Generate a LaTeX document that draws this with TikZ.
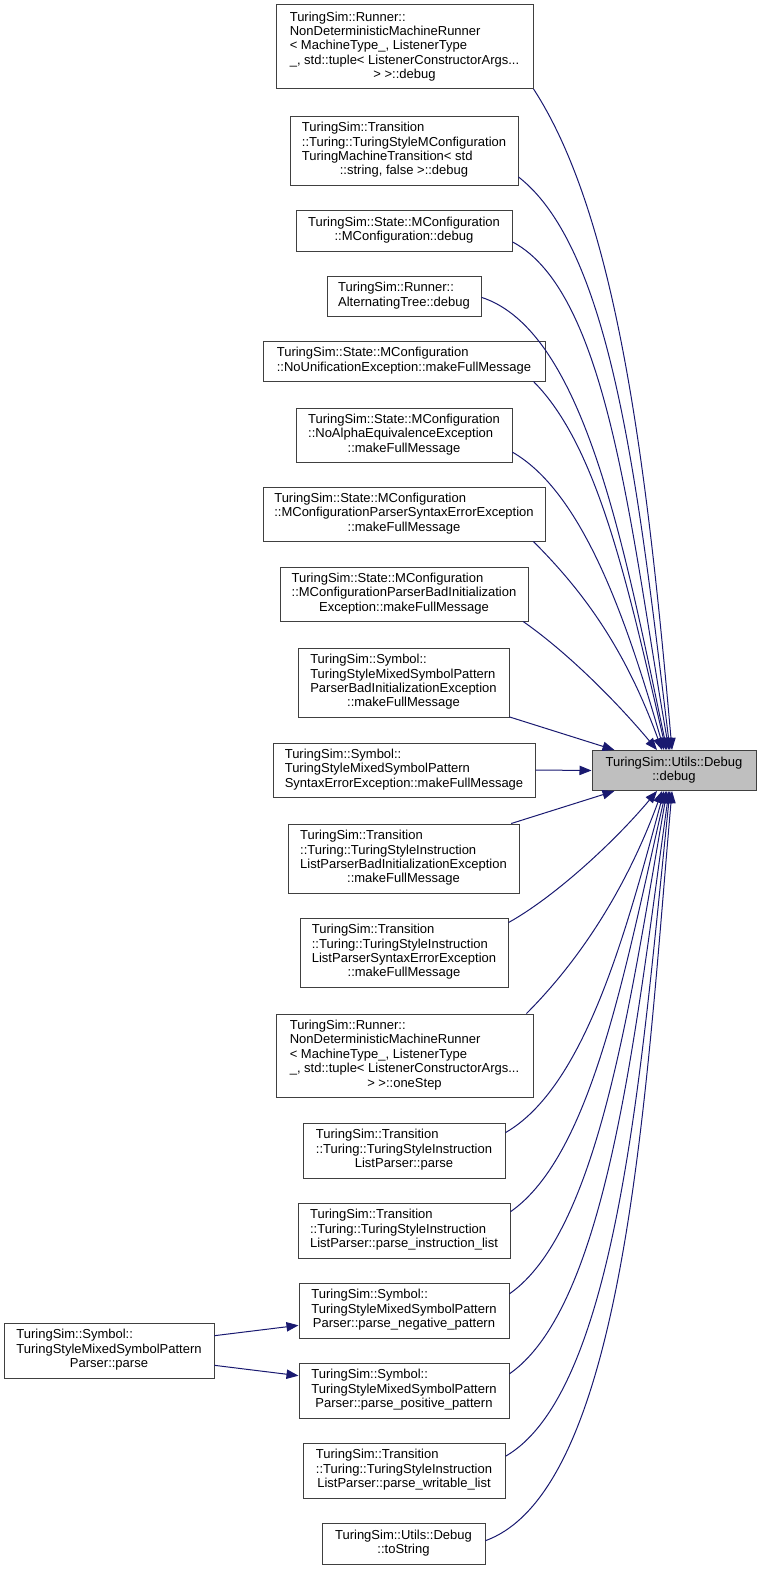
\documentclass[tikz,border=0pt]{standalone}
\usepackage{fontspec}
\setmainfont{Liberation Sans}
\usepackage{tikz}
\usetikzlibrary{arrows.meta}
\definecolor{EdgeBlue}{HTML}{191970}
\definecolor{BoxGray}{HTML}{BFBFBF}
\definecolor{BoxLine}{HTML}{404040}
\newcommand{\fnlab}[1]{\begin{tabular}{@{}l@{}}#1\end{tabular}}
\newcommand{\lastln}[1]{\multicolumn{1}{@{}c@{}}{#1}}

\begin{document}
\begin{tikzpicture}[x=0.75pt,y=-0.75pt,
    fn/.style={draw=BoxLine,line width=0.75pt,fill=white,inner sep=0pt,
      font=\fontsize{9.75}{10.8}\selectfont},
    bw/.style={minimum width=#1*0.75pt},
    bh/.style={minimum height=#1*0.75pt},
    call/.style={draw=EdgeBlue,line width=0.75pt,-{Triangle[length=9pt,width=7pt]}}]
  \useasboundingbox (0,0) rectangle (761,1570);

  % callers above
  \node[fn,bw=257,bh=84] (rdebug) at (404.5,47) {\fnlab{TuringSim::Runner::\\NonDeterministicMachineRunner\\< MachineType\_, ListenerType\\\_, std::tuple< ListenerConstructorArgs...\\\lastln{> >::debug}}};
  \node[fn,bw=228,bh=69] (tdebug) at (404,150.5) {\fnlab{TuringSim::Transition\\::Turing::TuringStyleMConfiguration\\TuringMachineTransition< std\\\lastln{::string, false >::debug}}};
  \node[fn,bw=216,bh=41] (mcdebug) at (404,230.5) {\fnlab{TuringSim::State::MConfiguration\\\lastln{::MConfiguration::debug}}};
  \node[fn,bw=154,bh=40] (atdebug) at (404,296) {\fnlab{TuringSim::Runner::\\\lastln{AlternatingTree::debug}}};
  \node[fn,bw=282,bh=40] (nounif) at (404,361) {\fnlab{TuringSim::State::MConfiguration\\\lastln{::NoUnificationException::makeFullMessage}}};
  \node[fn,bw=216,bh=54] (noalpha) at (404,435) {\fnlab{TuringSim::State::MConfiguration\\::NoAlphaEquivalenceException\\\lastln{::makeFullMessage}}};
  \node[fn,bw=282,bh=54] (mcsyntax) at (404,514) {\fnlab{TuringSim::State::MConfiguration\\::MConfigurationParserSyntaxErrorException\\\lastln{::makeFullMessage}}};
  \node[fn,bw=248,bh=54] (mcbadinit) at (404,594) {\fnlab{TuringSim::State::MConfiguration\\::MConfigurationParserBadInitialization\\\lastln{Exception::makeFullMessage}}};
  \node[fn,bw=211,bh=69] (spbadinit) at (403.5,682.5) {\fnlab{TuringSim::Symbol::\\TuringStyleMixedSymbolPattern\\ParserBadInitializationException\\\lastln{::makeFullMessage}}};
  \node[fn,bw=262,bh=54] (spsyntax) at (404,770) {\fnlab{TuringSim::Symbol::\\TuringStyleMixedSymbolPattern\\\lastln{SyntaxErrorException::makeFullMessage}}};

  % the function itself
  \node[fn,fill=BoxGray,bw=164,bh=40] (dbg) at (674,770.5) {\fnlab{TuringSim::Utils::Debug\\\lastln{::debug}}};

  % callers below
  \node[fn,bw=231,bh=69] (tlbadinit) at (403.5,858.5) {\fnlab{TuringSim::Transition\\::Turing::TuringStyleInstruction\\ListParserBadInitializationException\\\lastln{::makeFullMessage}}};
  \node[fn,bw=208,bh=69] (tlsyntax) at (404,952.5) {\fnlab{TuringSim::Transition\\::Turing::TuringStyleInstruction\\ListParserSyntaxErrorException\\\lastln{::makeFullMessage}}};
  \node[fn,bw=257,bh=83] (onestep) at (404.5,1055.5) {\fnlab{TuringSim::Runner::\\NonDeterministicMachineRunner\\< MachineType\_, ListenerType\\\_, std::tuple< ListenerConstructorArgs...\\\lastln{> >::oneStep}}};
  \node[fn,bw=202,bh=55] (tlparse) at (404,1150.5) {\fnlab{TuringSim::Transition\\::Turing::TuringStyleInstruction\\\lastln{ListParser::parse}}};
  \node[fn,bw=212,bh=55] (tlinstr) at (404,1230.5) {\fnlab{TuringSim::Transition\\::Turing::TuringStyleInstruction\\\lastln{ListParser::parse\_instruction\_list}}};
  \node[fn,bw=210,bh=55] (spneg) at (404,1310.5) {\fnlab{TuringSim::Symbol::\\TuringStyleMixedSymbolPattern\\\lastln{Parser::parse\_negative\_pattern}}};
  \node[fn,bw=210,bh=55] (sppos) at (404,1390.5) {\fnlab{TuringSim::Symbol::\\TuringStyleMixedSymbolPattern\\\lastln{Parser::parse\_positive\_pattern}}};
  \node[fn,bw=202,bh=55] (tlwrit) at (404,1470.5) {\fnlab{TuringSim::Transition\\::Turing::TuringStyleInstruction\\\lastln{ListParser::parse\_writable\_list}}};
  \node[fn,bw=163,bh=41] (tostr) at (403.5,1543.5) {\fnlab{TuringSim::Utils::Debug\\\lastln{::toString}}};
  \node[fn,bw=210,bh=55] (spparse) at (109,1350.5) {\fnlab{TuringSim::Symbol::\\TuringStyleMixedSymbolPattern\\\lastln{Parser::parse}}};

  % edges into dbg from above
  \draw[call] (rdebug.-18) .. controls +(-57:112pt) and +(95:225pt) .. ([xshift=-1.5pt]dbg.north);
  \draw[call] (tdebug.-13) .. controls +(-38:90pt) and +(97:195pt) .. ([xshift=-3pt]dbg.north);
  \draw[call] (mcdebug.-6) .. controls +(-28:82pt) and +(100:165pt) .. ([xshift=-3.75pt]dbg.north);
  \draw[call] (atdebug.-1) .. controls +(-18:82pt) and +(102:150pt) .. ([xshift=-5.25pt]dbg.north);
  \draw[call] (nounif.-9) .. controls +(-45:68pt) and +(103:128pt) .. ([xshift=-6pt]dbg.north);
  \draw[call] (noalpha.-9) .. controls +(-30:60pt) and +(106:105pt) .. ([xshift=-7.5pt]dbg.north);
  \draw[call] (mcsyntax.-12) .. controls +(-45:52pt) and +(110:82pt) .. ([xshift=-9pt]dbg.north);
  \draw[call] (mcbadinit.-13) .. controls +(-35:38pt) and +(130:52pt) .. ([xshift=-12.75pt]dbg.north);
  \draw[call] (spbadinit.-18) -- (dbg.161);
  \draw[call] (spsyntax.east) -- (dbg.west);

  % edges into dbg from below
  \draw[call] (tlbadinit.18) -- (dbg.-161);
  \draw[call] (tlsyntax.16) .. controls +(29:38pt) and +(-130:52pt) .. ([xshift=-12.75pt]dbg.south);
  \draw[call] (onestep.19) .. controls +(45:52pt) and +(-110:82pt) .. ([xshift=-9pt]dbg.south);
  \draw[call] (tlparse.10) .. controls +(30:68pt) and +(-105:112pt) .. ([xshift=-7.5pt]dbg.south);
  \draw[call] (tlinstr.10) .. controls +(35:75pt) and +(-103:135pt) .. ([xshift=-6pt]dbg.south);
  \draw[call] (spneg.9) .. controls +(35:82pt) and +(-100:158pt) .. ([xshift=-5.25pt]dbg.south);
  \draw[call] (sppos.9) .. controls +(35:90pt) and +(-98:180pt) .. ([xshift=-3.75pt]dbg.south);
  \draw[call] (tlwrit.8) .. controls +(30:98pt) and +(-96:202pt) .. ([xshift=-3pt]dbg.south);
  \draw[call] (tostr.2) .. controls +(20:112pt) and +(-95:225pt) .. ([xshift=-1.5pt]dbg.south);

  % parse calls both pattern parsers
  \draw[call] (spparse.8) -- (spneg.188);
  \draw[call] (spparse.-8) -- (sppos.172);
\end{tikzpicture}
\end{document}
